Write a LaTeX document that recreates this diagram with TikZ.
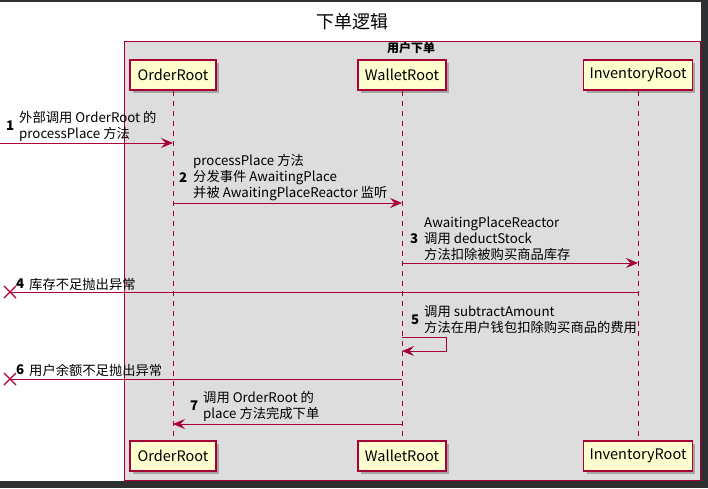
\documentclass[tikz,border=0pt]{standalone}
\usepackage{fontspec}
\setmainfont{Noto Sans CJK SC}
\usetikzlibrary{arrows.meta, shadows, calc}

\definecolor{umlred}{HTML}{A80036}
\definecolor{umlbox}{HTML}{FEFECE}
\definecolor{umlgroup}{HTML}{DDDDDD}
\definecolor{frame}{HTML}{2E2F31}

\tikzset{
  participant/.style={draw=umlred, line width=1.2pt, fill=umlbox, minimum height=30pt,
    inner xsep=6pt, font=\fontsize{14.5}{16}\selectfont,
    drop shadow={shadow xshift=3pt, shadow yshift=-3pt, opacity=0.25, fill=black}},
  lifeline/.style={draw=umlred, dash pattern=on 5pt off 5pt, line width=0.8pt},
  msg/.style={draw=umlred, line width=0.9pt, -{Stealth[length=12pt, width=10pt, inset=4.5pt]}},
  lost/.style={draw=umlred, line width=0.9pt},
  msgtext/.style={anchor=west, inner sep=0pt, align=left, font=\fontsize{13.3}{16}\selectfont},
  msgnum/.style={anchor=west, inner sep=0pt, font=\fontsize{13.3}{16}\selectfont\bfseries},
}

\begin{document}
\begin{tikzpicture}[x=1pt, y=-1pt]
% frame of the screenshot
\fill[frame] (0,0) rectangle (708,488);
\fill[white] (0,2) rectangle (701,481);
\useasboundingbox (0,0) rectangle (708,488);

\node[font=\fontsize{18}{20}\selectfont] (title) at (352,22) {下单逻辑};

% group
\draw[umlred, fill=umlgroup, line width=0.9pt] (124,41) rectangle (700,480);
\node[font=\fontsize{12}{14}\selectfont\bfseries] (group) at (411,48) {用户下单};

% participants
\begin{scope}[every node/.style={participant}]
    \node[minimum width=86pt]  (orderTop)  at (173,75)  {OrderRoot};
    \node[minimum width=88pt]  (walletTop) at (402,75)  {WalletRoot};
    \node[minimum width=108pt] (invTop)    at (638,75)  {InventoryRoot};
    \node[minimum width=86pt]  (orderBot)  at (173,456) {OrderRoot};
    \node[minimum width=88pt]  (walletBot) at (402,456) {WalletRoot};
    \node[minimum width=108pt] (invBot)    at (638,456) {InventoryRoot};
\end{scope}

\draw[lifeline] (orderTop)  -- (orderBot);
\draw[lifeline] (walletTop) -- (walletBot);
\draw[lifeline] (invTop)    -- (invBot);

% message end points
\coordinate (in1) at (0,143);
\coordinate (o1)  at (173,143);
\coordinate (o2)  at (173,203);
\coordinate (w2)  at (402,203);
\coordinate (w3)  at (402,263);
\coordinate (i3)  at (638,263);
\coordinate (i4)  at (638,292);
\coordinate (x4)  at (10,292);
\coordinate (w5a) at (402,337);
\coordinate (w5b) at (446,337);
\coordinate (w5c) at (446,351);
\coordinate (w5d) at (402,351);
\coordinate (w6)  at (402,379);
\coordinate (x6)  at (10,379);
\coordinate (w7)  at (402,424);
\coordinate (o7)  at (173,424);

% messages
\draw[msg] (in1) -- (o1);
\node[msgnum]  (n1) at (6,126) {1};
\node[msgtext] (t1) at (19,126) {外部调用 OrderRoot 的\\processPlace 方法};

\draw[msg] (o2) -- (w2);
\node[msgnum]  (n2) at (179,178) {2};
\node[msgtext] (t2) at (193,178) {processPlace 方法\\分发事件 AwaitingPlace\\并被 AwaitingPlaceReactor 监听};

\draw[msg] (w3) -- (i3);
\node[msgnum]  (n3) at (410,239) {3};
\node[msgtext] (t3) at (424,239) {AwaitingPlaceReactor\\调用 deductStock\\方法扣除被购买商品库存};

\draw[lost] (i4) -- (x4);
\draw[lost, line width=1.3pt] ($(x4)+(-6,-6)$) -- ($(x4)+(6,6)$) ($(x4)+(-6,6)$) -- ($(x4)+(6,-6)$);
\node[msgnum]  (n4) at (16,284) {4};
\node[msgtext] (t4) at (29,284) {库存不足抛出异常};

\draw[msg] (w5a) -- (w5b) -- (w5c) -- (w5d);
\node[msgnum]  (n5) at (411,320) {5};
\node[msgtext] (t5) at (424,320) {调用 subtractAmount\\方法在用户钱包扣除购买商品的费用};

\draw[lost] (w6) -- (x6);
\draw[lost, line width=1.3pt] ($(x6)+(-6,-6)$) -- ($(x6)+(6,6)$) ($(x6)+(-6,6)$) -- ($(x6)+(6,-6)$);
\node[msgnum]  (n6) at (16,370) {6};
\node[msgtext] (t6) at (29,370) {用户余额不足抛出异常};

\draw[msg] (w7) -- (o7);
\node[msgnum]  (n7) at (190,406) {7};
\node[msgtext] (t7) at (203,406) {调用 OrderRoot 的\\place 方法完成下单};
\end{tikzpicture}
\end{document}
